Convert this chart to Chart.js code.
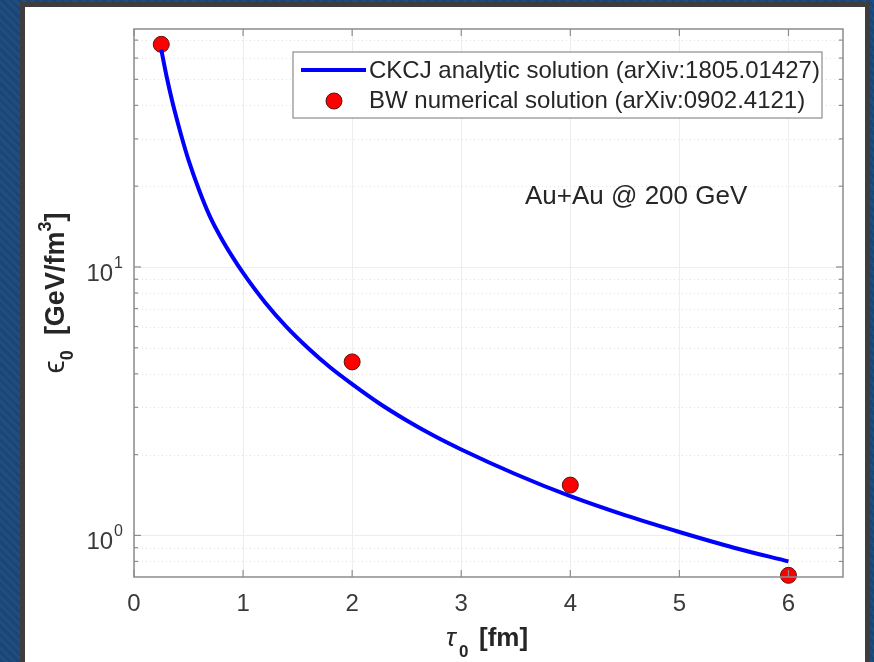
<!DOCTYPE html>
<html>
<head>
<meta charset="utf-8">
<script src="https://cdn.jsdelivr.net/npm/chart.js@4.4.0/dist/chart.umd.min.js"></script>
<style>
  html, body { margin: 0; padding: 0; }
  body {
    width: 874px; height: 662px; overflow: hidden; position: relative;
    background: repeating-linear-gradient(45deg, #1a4576 0px, #1a4576 3px, #1f4d80 3px, #1f4d80 6px);
  }
  #frame {
    position: absolute; left: 20px; top: 2px; width: 840px; height: 700px;
    background: #fff; border: 5px solid #3d3d3d; border-bottom: none;
  }
  #chart { position: absolute; left: 0; top: 0; }
</style>
</head>
<body>
<div id="frame"></div>
<canvas id="chart" width="874" height="662"></canvas>
<script>
// CKCJ analytic curve
var curveTau = [0.25, 0.3, 0.35, 0.4, 0.45, 0.5, 0.6, 0.7, 0.8, 0.9, 1.0, 1.2, 1.4, 1.6, 1.8, 2.0, 2.25, 2.5, 2.75, 3.0, 3.5, 4.0, 4.5, 5.0, 5.5, 6.0];
var curveEps = [64.5, 51, 41.5, 34.6, 29.2, 25.0, 19.2, 15.3, 12.8, 10.95, 9.5, 7.39, 5.97, 4.97, 4.22, 3.66, 3.10, 2.68, 2.35, 2.09, 1.69, 1.40, 1.19, 1.03, 0.90, 0.80];

// BW numerical points
var bwTau = [0.25, 2, 4, 6];
var bwEps = [67.5, 4.43, 1.54, 0.71];

// axes
var xTicks = [0, 1, 2, 3, 4, 5, 6];
var yMajorExp = [0, 1];
var yMinor = [0.8, 0.9, 2, 3, 4, 5, 6, 7, 8, 9, 20, 30, 40, 50, 60, 70];

var labelCurve = 'CKCJ analytic solution (arXiv:1805.01427)';
var labelBW = 'BW numerical solution (arXiv:0902.4121)';
var note = 'Au+Au @ 200 GeV';

var FONT = '"Liberation Sans", Arial, Helvetica, sans-serif';

function toXY(xs, ys) {
    var out = [];
    for (var i = 0; i < xs.length; i++) out.push({x: xs[i], y: ys[i]});
    return out;
}

function seg(ctx, x1, y1, x2, y2) {
    ctx.beginPath();
    ctx.moveTo(x1, y1);
    ctx.lineTo(x2, y2);
    ctx.stroke();
}

var matlabAxes = {
    id: 'matlabAxes',
    beforeDatasetsDraw: function (chart) {
        var ctx = chart.ctx, a = chart.chartArea;
        var xs = chart.scales.x, ys = chart.scales.y;
        ctx.save();
        ctx.lineWidth = 1;
        ctx.strokeStyle = '#ededed';
        xTicks.forEach(function (t) {
            var px = Math.round(xs.getPixelForValue(t)) + 0.5;
            seg(ctx, px, a.top, px, a.bottom);
        });
        yMajorExp.forEach(function (e) {
            var py = Math.round(ys.getPixelForValue(Math.pow(10, e))) + 0.5;
            seg(ctx, a.left, py, a.right, py);
        });
        ctx.setLineDash([1, 3]);
        ctx.strokeStyle = '#e2e2e2';
        yMinor.forEach(function (v) {
            var py = Math.round(ys.getPixelForValue(v)) + 0.5;
            seg(ctx, a.left, py, a.right, py);
        });
        ctx.restore();
    },
    afterDatasetsDraw: function (chart) {
        var ctx = chart.ctx, a = chart.chartArea;
        var xs = chart.scales.x, ys = chart.scales.y;
        var ds = chart.data.datasets;
        ctx.save();

        // box + inward ticks
        ctx.strokeStyle = '#8c8c8c';
        ctx.lineWidth = 1.5;
        ctx.strokeRect(a.left, a.top, a.right - a.left, a.bottom - a.top);
        ctx.lineWidth = 1.2;
        xTicks.forEach(function (t) {
            var px = xs.getPixelForValue(t);
            seg(ctx, px, a.bottom, px, a.bottom - 7);
            seg(ctx, px, a.top, px, a.top + 7);
        });
        yMajorExp.forEach(function (e) {
            var py = ys.getPixelForValue(Math.pow(10, e));
            seg(ctx, a.left, py, a.left + 7, py);
            seg(ctx, a.right, py, a.right - 7, py);
        });
        yMinor.forEach(function (v) {
            var py = ys.getPixelForValue(v);
            seg(ctx, a.left, py, a.left + 4, py);
            seg(ctx, a.right, py, a.right - 4, py);
        });

        // tick labels
        ctx.fillStyle = '#3a3a3a';
        ctx.font = '24px ' + FONT;
        ctx.textAlign = 'center';
        ctx.textBaseline = 'middle';
        xTicks.forEach(function (t) {
            ctx.fillText(String(t), xs.getPixelForValue(t), a.bottom + 27);
        });
        ctx.textBaseline = 'alphabetic';
        yMajorExp.forEach(function (e) {
            var py = ys.getPixelForValue(Math.pow(10, e));
            var right = a.left - 11;
            ctx.font = '16px ' + FONT;
            ctx.textAlign = 'right';
            var sw = ctx.measureText(String(e)).width;
            ctx.fillText(String(e), right, py + 1);
            ctx.font = '24px ' + FONT;
            ctx.fillText('10', right - sw - 1, py + 14);
        });

        // x title: tau_0 [fm]
        ctx.fillStyle = '#262626';
        ctx.textAlign = 'left';
        var ty = 646;
        ctx.font = 'italic 26px ' + FONT;
        ctx.fillText('\u03c4', 446, ty);
        ctx.font = 'bold 17px ' + FONT;
        ctx.fillText('0', 459, ty + 11);
        ctx.font = 'bold 26px ' + FONT;
        ctx.fillText('[fm]', 479, ty);

        // y title: eps_0 [GeV/fm^3], rotated
        ctx.save();
        ctx.translate(64, 293);
        ctx.rotate(-Math.PI / 2);
        var parts = [
            {t: '\u03f5', f: '30px ' + FONT, dy: 0},
            {t: '0', f: 'bold 18px ' + FONT, dy: 9},
            {t: '  [GeV/fm', f: 'bold 27px ' + FONT, dy: 0},
            {t: '3', f: 'bold 18px ' + FONT, dy: -13},
            {t: ']', f: 'bold 27px ' + FONT, dy: 0}
        ];
        var total = 0;
        parts.forEach(function (p) { ctx.font = p.f; p.w = ctx.measureText(p.t).width; total += p.w; });
        var cx = -total / 2;
        parts.forEach(function (p) {
            ctx.font = p.f;
            ctx.fillText(p.t, cx, p.dy);
            cx += p.w;
        });
        ctx.restore();

        // annotation
        ctx.font = '26px ' + FONT;
        ctx.fillStyle = '#262626';
        ctx.fillText(note, 525, 204);

        // legend
        var lx = 293, ly = 52, lw = 529, lh = 66;
        ctx.fillStyle = '#fff';
        ctx.fillRect(lx, ly, lw, lh);
        ctx.strokeStyle = '#8c8c8c';
        ctx.lineWidth = 1.2;
        ctx.strokeRect(lx, ly, lw, lh);
        ctx.strokeStyle = ds[0].borderColor;
        ctx.lineWidth = ds[0].borderWidth;
        seg(ctx, 301, 70, 366, 70);
        ctx.beginPath();
        ctx.arc(334, 101, ds[1].pointRadius, 0, Math.PI * 2);
        ctx.fillStyle = ds[1].backgroundColor;
        ctx.fill();
        ctx.strokeStyle = ds[1].borderColor;
        ctx.lineWidth = ds[1].borderWidth;
        ctx.stroke();
        ctx.fillStyle = '#262626';
        ctx.font = '24px ' + FONT;
        ctx.textBaseline = 'middle';
        ctx.fillText(labelCurve, 369, 71);
        ctx.fillText(labelBW, 369, 101);
        ctx.restore();
    }
};

var chart = new Chart(document.getElementById('chart').getContext('2d'), {
    type: 'scatter',
    data: {
        datasets: [
            {
                label: labelCurve,
                data: toXY(curveTau, curveEps),
                showLine: true,
                borderColor: '#0000ff',
                borderWidth: 4,
                pointRadius: 0,
                cubicInterpolationMode: 'monotone',
                fill: false
            },
            {
                label: labelBW,
                data: toXY(bwTau, bwEps),
                showLine: false,
                pointRadius: 8,
                backgroundColor: '#ff0000',
                borderColor: '#5a1010',
                borderWidth: 1,
                clip: false
            }
        ]
    },
    options: {
        responsive: false,
        animation: false,
        devicePixelRatio: 1,
        layout: {padding: {left: 0, top: 29, right: 31, bottom: 0}},
        plugins: {legend: {display: false}, tooltip: {enabled: false}},
        scales: {
            x: {
                type: 'linear', min: 0, max: 6.5,
                ticks: {display: false},
                grid: {display: false},
                border: {display: false},
                afterFit: function (s) { s.height = 85; }
            },
            y: {
                type: 'logarithmic', min: 0.71, max: 77,
                ticks: {display: false},
                grid: {display: false},
                border: {display: false},
                afterFit: function (s) { s.width = 134; }
            }
        }
    },
    plugins: [matlabAxes]
});
</script>
</body>
</html>
